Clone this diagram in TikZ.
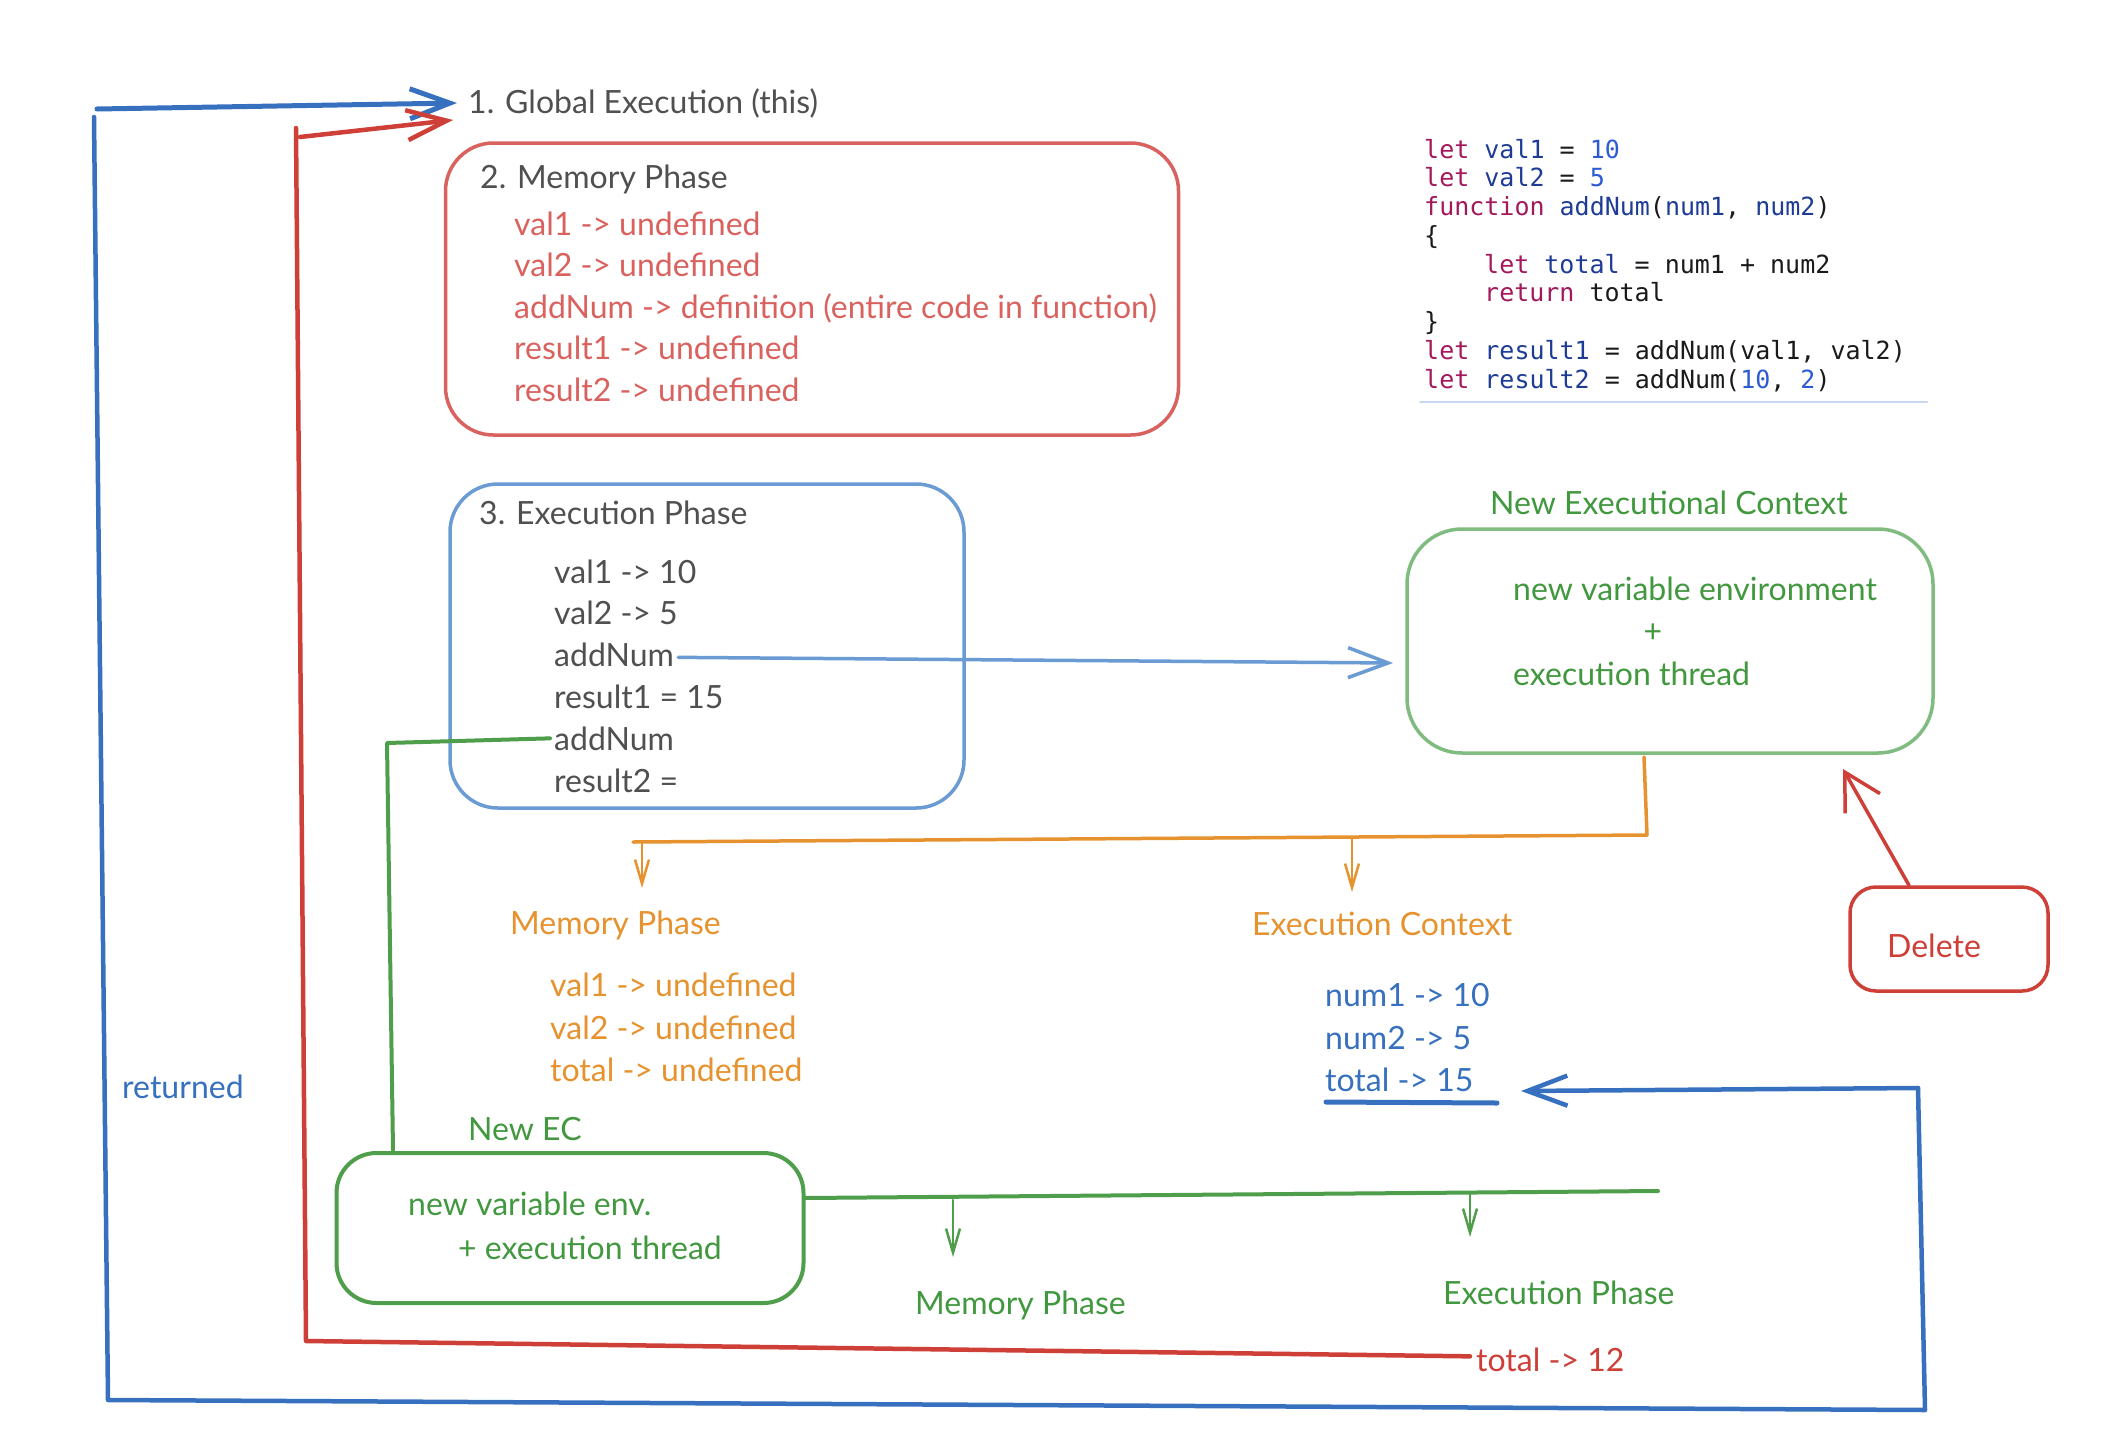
\documentclass[tikz,border=0pt]{standalone}
\usepackage{fontspec}
\setmainfont{Lato}
\newfontfamily\codefont{DejaVu Sans Mono}
\usetikzlibrary{arrows.meta}

\definecolor{txtgray}{HTML}{505050}
\definecolor{memred}{HTML}{D9625F}
\definecolor{linered}{HTML}{CE3F38}
\definecolor{boxblue}{HTML}{6A9BD3}
\definecolor{lineblue}{HTML}{3670BF}
\definecolor{greenbox}{HTML}{80BC80}
\definecolor{greentxt}{HTML}{42983F}
\definecolor{greenline}{HTML}{4E9E4B}
\definecolor{orangeline}{HTML}{E6922E}
\definecolor{codekw}{HTML}{A3195B}
\definecolor{codeid}{HTML}{1E3C96}
\definecolor{codenum}{HTML}{2C5BD4}
\definecolor{codetxt}{HTML}{1A1A1A}
\definecolor{rulelight}{HTML}{C8D8F0}

\newcommand{\ckw}[1]{\textcolor{codekw}{#1}}
\newcommand{\cid}[1]{\textcolor{codeid}{#1}}
\newcommand{\cnum}[1]{\textcolor{codenum}{#1}}

\begin{document}
\begin{tikzpicture}[x=1pt,y=-1pt,
  lbl/.style={inner sep=0pt, anchor=base west, yshift=-2pt, font=\fontsize{32}{38}\selectfont},
  codeline/.style={inner sep=0pt, anchor=base west, text=codetxt,
    font=\codefont\fontsize{25}{30}\selectfont},
  roundbox/.style={draw, line width=3.5pt, rounded corners=48pt, inner sep=0pt},
  bigbarb/.style={-{Straight Barb[length=40pt,width=30pt]}},
  smallbarb/.style={-{Straight Barb[length=24pt,width=14pt]}},
  line cap=round, line join=round]

\fill[white] (0,0) rectangle (2120,1440);
\useasboundingbox (0,0) rectangle (2120,1440);

% ---------- global execution context ----------
\node[lbl, text=txtgray] (title) at (468,111) {1. Global Execution (this)};

\node[roundbox, draw=memred, minimum width=733pt, minimum height=292pt]
  (memBox) at (812,289) {};
\node[lbl, text=txtgray] (memHead) at (480,186) {2. Memory Phase};
\node[lbl, text=memred] (memA) at (514,233) {val1 -> undefined};
\node[lbl, text=memred] (memB) at (514,274) {val2 -> undefined};
\node[lbl, text=memred] (memC) at (514,316) {addNum -> definition (entire code in function)};
\node[lbl, text=memred] (memD) at (514,357) {result1 -> undefined};
\node[lbl, text=memred] (memE) at (514,399) {result2 -> undefined};

\node[roundbox, draw=boxblue, minimum width=514pt, minimum height=324pt]
  (exeBox) at (707,646) {};
\node[lbl, text=txtgray] (exeHead) at (479,522) {3. Execution Phase};
\node[lbl, text=txtgray] (exeA) at (554,581) {val1 -> 10};
\node[lbl, text=txtgray] (exeB) at (554,622) {val2 -> 5};
\node[lbl, text=txtgray] (addNumA) at (554,664) {addNum};
\node[lbl, text=txtgray] (exeD) at (554,706) {result1 = 15};
\node[lbl, text=txtgray] (addNumB) at (554,748) {addNum};
\node[lbl, text=txtgray] (exeF) at (554,790) {result2 =};

% ---------- source code ----------
\node[codeline] (c1) at (1424,158)    {\ckw{let} \cid{val1} = \cnum{10}};
\node[codeline] (c2) at (1424,186.75) {\ckw{let} \cid{val2} = \cnum{5}};
\node[codeline] (c3) at (1424,215.5)  {\ckw{function} \cid{addNum}(\cid{num1}, \cid{num2})};
\node[codeline] (c4) at (1424,244.25) {\{};
\node[codeline] (c5) at (1484,273)    {\ckw{let} \cid{total} = num1 + num2};
\node[codeline] (c6) at (1484,301.75) {\ckw{return} total};
\node[codeline] (c7) at (1424,330.5)  {\}};
\node[codeline] (c8) at (1424,359.25) {\ckw{let} \cid{result1} = addNum(val1, val2)};
\node[codeline] (c9) at (1424,388)    {\ckw{let} \cid{result2} = addNum(\cnum{10}, \cnum{2})};
\coordinate (ruleL) at (1420,402);
\coordinate (ruleR) at (1927,402);
\draw[rulelight, line width=2pt] (ruleL) -- (ruleR);

% ---------- first function call ----------
\node[lbl, text=greentxt] (necHead) at (1490,512) {New Executional Context};
\node[roundbox, draw=greenbox, rounded corners=55pt, minimum width=526pt, minimum height=224pt]
  (necBox) at (1670,641) {};
\node[lbl, text=greentxt] (necA) at (1513,598) {new variable environment};
\node[lbl, text=greentxt, anchor=base] (necPlus) at (1653,640) {+};
\node[lbl, text=greentxt] (necB) at (1513,683) {execution thread};

\coordinate (necIn) at (1393,663);
\draw[boxblue, line width=3.5pt, bigbarb] ([xshift=4pt,yshift=-3pt]addNumA.east) -- (necIn);

\coordinate (oTop) at (1644,757);
\coordinate (oCorner) at (1647,835);
\coordinate (oLeft) at (633,842);
\coordinate (oA1) at (642,842);
\coordinate (oA2) at (642,888);
\coordinate (oB1) at (1352,838);
\coordinate (oB2) at (1352,892);
\draw[orangeline, line width=3.5pt] (oTop) -- (oCorner) -- (oLeft);
\draw[orangeline, line width=2.5pt, smallbarb] (oA1) -- (oA2);
\draw[orangeline, line width=2.5pt, smallbarb] (oB1) -- (oB2);

\node[lbl, text=orangeline] (omHead) at (510,932) {Memory Phase};
\node[lbl, text=orangeline] (omA) at (550,994) {val1 -> undefined};
\node[lbl, text=orangeline] (omB) at (550,1037) {val2 -> undefined};
\node[lbl, text=orangeline] (omC) at (550,1079) {total -> undefined};

\node[lbl, text=orangeline] (oeHead) at (1252,933) {Execution Context};
\node[lbl, text=lineblue] (oeA) at (1325,1004) {num1 -> 10};
\node[lbl, text=lineblue] (oeB) at (1325,1047) {num2 -> 5};
\node[lbl, text=lineblue] (total15) at (1325,1089) {total -> 15};
\coordinate (ulL) at (1326,1102);
\coordinate (ulR) at (1497,1103);
\draw[lineblue, line width=5pt] (ulL) -- (ulR);

% ---------- delete ----------
\node[draw=linered, line width=3.5pt, rounded corners=26pt, inner sep=0pt,
  minimum width=198pt, minimum height=104pt] (delBox) at (1949,939) {};
\node[lbl, text=linered] (delTxt) at (1887,955) {Delete};
\coordinate (delTip) at (1843,769);
\draw[linered, line width=3.5pt, -{Straight Barb[length=36pt,width=40pt]}]
  ([xshift=-40pt]delBox.north) -- (delTip);

% ---------- returned value ----------
\coordinate (rcTop) at (1918,1088);
\coordinate (rcBot) at (1925,1410);
\coordinate (lcBot) at (108,1400);
\coordinate (lcTop) at (94,117);
\coordinate (blTop) at (97,109);
\coordinate (blTip) at (457,103);
\coordinate (tip15) at (1521,1091);
\draw[lineblue, line width=4.5pt, bigbarb] (rcTop) -- (tip15);
\draw[lineblue, line width=4.5pt] (rcTop) -- (rcBot) -- (lcBot) -- (lcTop);
\draw[lineblue, line width=5pt, bigbarb] (blTop) -- (blTip);
\node[lbl, text=lineblue] (retTxt) at (122,1096) {returned};

% ---------- second function call ----------
\coordinate (gBend) at (387,743);
\coordinate (gDown) at (393,1150);
\draw[greenline, line width=4pt] ([xshift=-4pt]addNumB.west) -- (gBend) -- (gDown);

\node[lbl, text=greentxt] (ecHead) at (468,1138) {New EC};
\node[roundbox, draw=greenline, rounded corners=40pt, line width=4pt,
  minimum width=467pt, minimum height=150pt] (ecBox) at (570,1228) {};
\node[lbl, text=greentxt] (ecA) at (408,1213) {new variable env.};
\node[lbl, text=greentxt] (ecB) at (458,1257) {+ execution thread};

\coordinate (gH1) at (804,1198);
\coordinate (gH2) at (1658,1191);
\coordinate (gA1) at (953,1200);
\coordinate (gA2) at (953,1257);
\coordinate (gB1) at (1470,1194);
\coordinate (gB2) at (1470,1237);
\draw[greenline, line width=4pt] (gH1) -- (gH2);
\draw[greenline, line width=2.5pt, smallbarb] (gA1) -- (gA2);
\draw[greenline, line width=2.5pt, smallbarb] (gB1) -- (gB2);
\node[lbl, text=greentxt] (gmHead) at (915,1312) {Memory Phase};
\node[lbl, text=greentxt] (geHead) at (1443,1302) {Execution Phase};

\node[lbl, text=linered] (total12) at (1476,1369) {total -> 12};
\coordinate (rBot) at (306,1341);
\coordinate (rTop) at (296,128);
\coordinate (rStart) at (300,137);
\coordinate (rTip) at (453,120);
\draw[linered, line width=4.5pt] ([xshift=-6pt,yshift=3pt]total12.west) -- (rBot) -- (rTop);
\draw[linered, line width=4.5pt, bigbarb] (rStart) -- (rTip);

\end{tikzpicture}
\end{document}
